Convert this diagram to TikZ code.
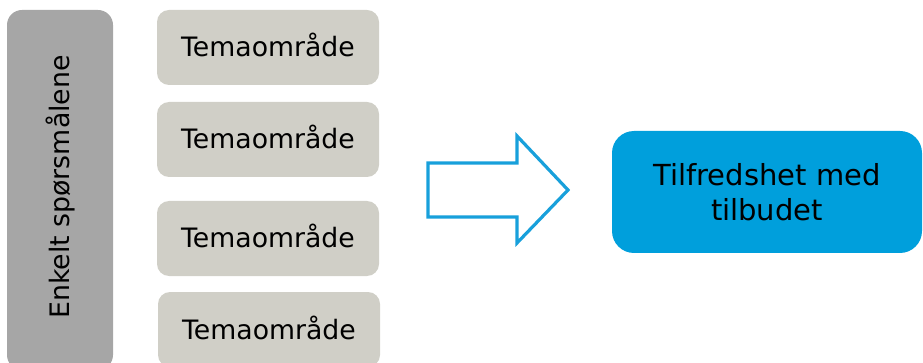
\documentclass[tikz,border=0pt]{standalone}
\usepackage{fontspec}
\setmainfont{DejaVu Sans}
\definecolor{bargray}{HTML}{A6A6A6}
\definecolor{temagray}{HTML}{D0CFC7}
\definecolor{boxblue}{HTML}{009FDC}
\definecolor{arrowblue}{HTML}{18A0DB}
\begin{document}
\begin{tikzpicture}[x=1pt,y=-1pt,
  tema/.style={fill=temagray, rounded corners=12pt, minimum width=222pt, minimum height=75pt,
    inner sep=0pt, font=\fontsize{26.7}{30}\selectfont, text height=19pt, text depth=0pt},
  bar/.style={fill=bargray, rounded corners=15pt, minimum width=106pt, minimum height=360pt, inner sep=0pt},
  barlabel/.style={rotate=90, inner sep=0pt, font=\fontsize{26.8}{30}\selectfont, text height=19pt, text depth=6pt},
  result/.style={fill=boxblue, rounded corners=22pt, minimum width=310pt, minimum height=122pt,
    inner sep=0pt, align=center, font=\fontsize{29}{35}\selectfont},
  blockarrow/.style={draw=arrowblue, line width=3.2pt, fill=white, line join=miter}]
\useasboundingbox (0,0) rectangle (923,363);
\clip (0,0) rectangle (923,363);
\node[bar] (bar) at (60,190) {};
\node[barlabel] (lbl) at (63,187) {Enkelt spørsmålene};
\node[tema] (t1) at (268,47.5) {Temaområde};
\node[tema] (t2) at (268,139.5) {Temaområde};
\node[tema] (t3) at (268,238.5) {Temaområde};
\node[tema] (t4) at (269,329.5) {Temaområde};
\coordinate (a1) at (428,163);
\coordinate (a2) at (517,163);
\coordinate (a3) at (517,136);
\coordinate (a4) at (568,190);
\coordinate (a5) at (517,243);
\coordinate (a6) at (517,217);
\coordinate (a7) at (428,217);
\draw[blockarrow] (a1) -- (a2) -- (a3) -- (a4) -- (a5) -- (a6) -- (a7) -- cycle;
\node[result] (res) at (767,192) {Tilfredshet med\\tilbudet};
\end{tikzpicture}
\end{document}
